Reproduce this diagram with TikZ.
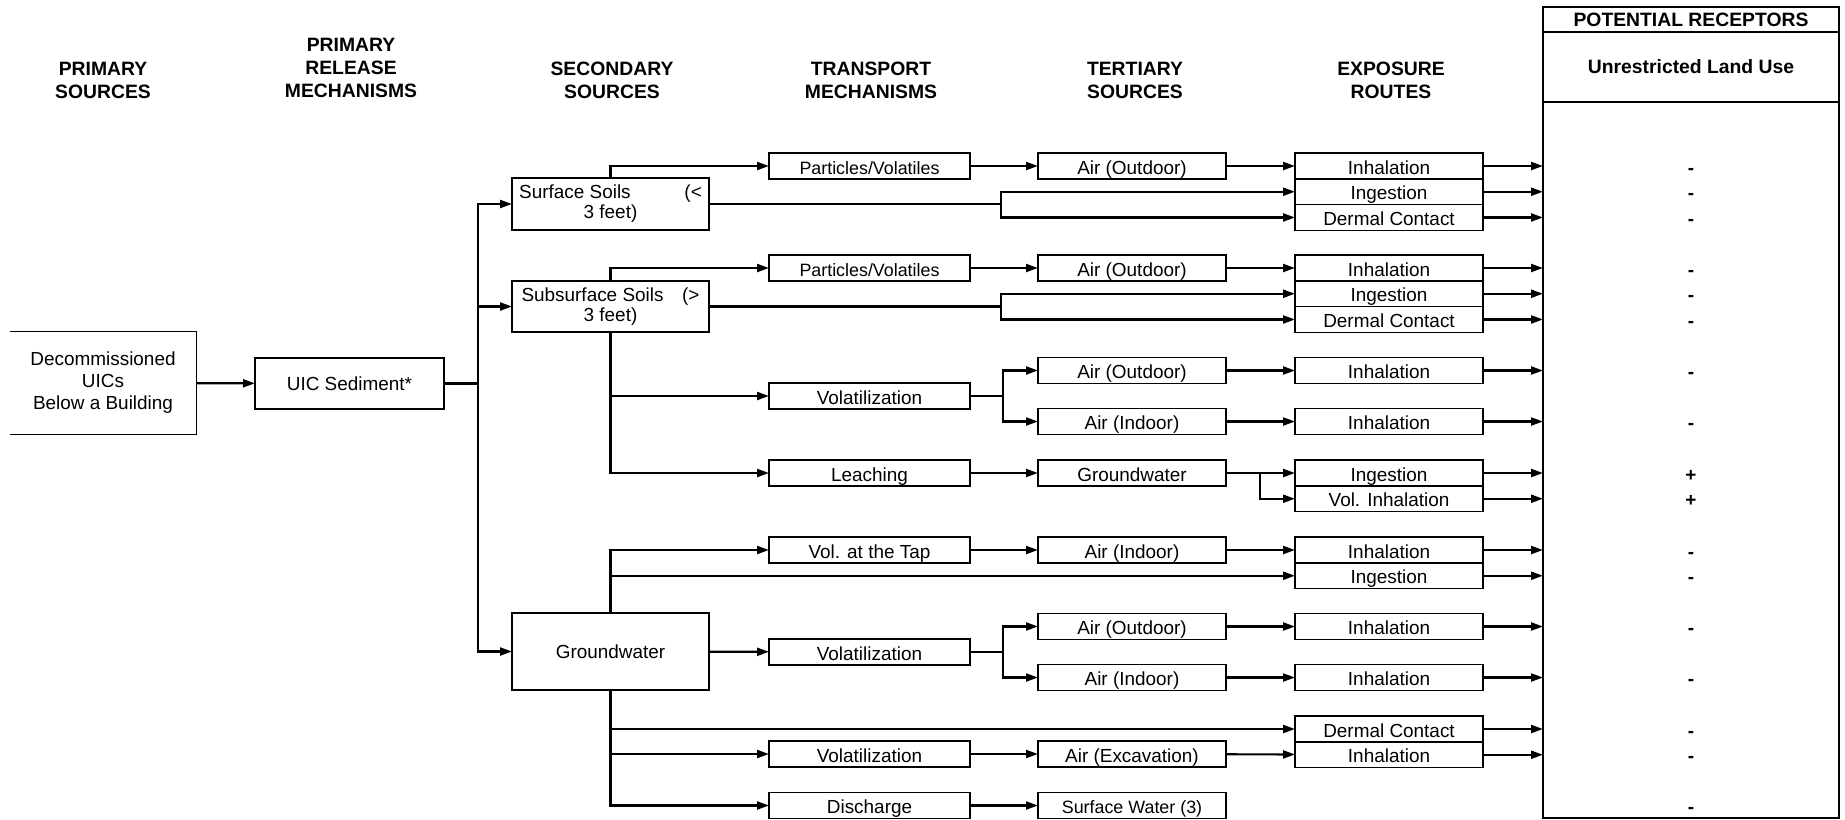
\documentclass[tikz,border=0pt]{standalone}
\usepackage{fontspec}
\setmainfont{Liberation Sans}
\usetikzlibrary{positioning,arrows.meta}

\begin{document}
\begin{tikzpicture}[x=0.75pt,y=0.75pt,yscale=-1,xscale=1,
  every node/.style={font=\fontsize{14.2}{16.5}\selectfont},
  hdr/.style={font=\bfseries\fontsize{14.5}{17.25}\selectfont,align=center},
  box/.style={draw,line width=1.1pt,inner sep=2pt,outer sep=0pt},
  tbox/.style={box,minimum width=150.75pt,minimum height=19.5pt,text height=12pt,text depth=0pt},
  sbox/.style={box,minimum width=141pt,minimum height=19.3pt,text height=12pt,text depth=0pt},
  recbox/.style={draw,line width=1.4pt,minimum width=222pt,inner sep=2pt,outer sep=0pt,font=\bfseries\fontsize{14.5}{17}\selectfont},
  con/.style={line width=1.6pt},
  arr/.style={con,-{Triangle[length=9pt,width=6pt]}},
  sign/.style={font=\bfseries\fontsize{14.2}{16}\selectfont,text height=12pt,text depth=0pt}]
\useasboundingbox (0,0) rectangle (1845,819) ;

\node[hdr] (hps) at (103,80) {PRIMARY\\SOURCES};
\node[hdr] (hprm) at (351,68) {PRIMARY\\RELEASE\\MECHANISMS};
\node[hdr] (hss) at (612,80) {SECONDARY\\SOURCES};
\node[hdr] (htm) at (871,80) {TRANSPORT\\MECHANISMS};
\node[hdr] (hts) at (1135,80) {TERTIARY\\SOURCES};
\node[hdr] (her) at (1391,80) {EXPOSURE\\ROUTES};

\node[recbox,minimum height=18.75pt] (rech) at (1691,19.5) {POTENTIAL RECEPTORS};
\node[recbox,minimum height=52.5pt,below=0pt of rech] (recl) {Unrestricted Land Use};
\node[recbox,minimum height=537pt,below=0pt of recl] (recb) {};

\node[align=center,minimum width=139.5pt,minimum height=76.5pt] (prim) at (103,383) {Decommissioned\\UICs\\Below a Building};
\draw[line width=1.1pt] (prim.north west) -- (prim.north east) -- (prim.south east) -- (prim.south west) ;
\node[box,minimum width=141.75pt,minimum height=38.25pt] (uic) at (349.5,383.5) {UIC Sediment*};

\node[box,minimum width=147.75pt,minimum height=39pt,align=center,font=\fontsize{14.2}{15}\selectfont] (ss) at (610.5,204) {\makebox[137pt]{Surface Soils\hfill(<}\\3 feet)};
\node[box,minimum width=147.75pt,minimum height=38.25pt,align=center,font=\fontsize{14.2}{15}\selectfont] (sub) at (610.5,306.5) {\makebox[133.5pt]{Subsurface Soils\hfill(>}\\3 feet)};
\node[box,minimum width=147.75pt,minimum height=57.75pt] (gw) at (610.5,651.5) {Groundwater};

\node[tbox,font=\fontsize{13.4}{15}\selectfont] (pv1) at (869.5,166) {Particles/Volatiles};
\node[tbox,font=\fontsize{13.4}{15}\selectfont] (pv2) at (869.5,268) {Particles/Volatiles};
\node[tbox] (vol1) at (869.5,396) {Volatilization};
\node[tbox] (leach) at (869.5,473) {Leaching};
\node[tbox] (tap) at (869.5,550) {Vol. at the Tap};
\node[tbox] (vol2) at (869.5,652) {Volatilization};
\node[tbox] (vol3) at (869.5,754) {Volatilization};
\node[tbox] (disch) at (869.5,805.5) {Discharge};

\node[sbox] (ao1) at (1132,166) {Air (Outdoor)};
\node[sbox] (ao2) at (1132,268) {Air (Outdoor)};
\node[sbox] (ao3) at (1132,370.5) {Air (Outdoor)};
\node[sbox] (ai1) at (1132,421.5) {Air (Indoor)};
\node[sbox] (gw2) at (1132,473) {Groundwater};
\node[sbox] (ai2) at (1132,550) {Air (Indoor)};
\node[sbox] (ao4) at (1132,626.5) {Air (Outdoor)};
\node[sbox] (ai3) at (1132,677.5) {Air (Indoor)};
\node[sbox] (aex) at (1132,754) {Air (Excavation)};
\node[sbox,font=\fontsize{13.4}{15}\selectfont] (sw) at (1132,805.5) {Surface Water (3)};

\node[sbox] (inh1) at (1389,166) {Inhalation};
\node[sbox,below=0pt of inh1] (ing1) {Ingestion};
\node[sbox,below=0pt of ing1] (der1) {Dermal Contact};
\node[sbox] (inh2) at (1389,268) {Inhalation};
\node[sbox,below=0pt of inh2] (ing2) {Ingestion};
\node[sbox,below=0pt of ing2] (der2) {Dermal Contact};
\node[sbox] (inh3) at (1389,370.5) {Inhalation};
\node[sbox] (inh4) at (1389,421.5) {Inhalation};
\node[sbox] (ing3) at (1389,473) {Ingestion};
\node[sbox,below=0pt of ing3] (vinh) {Vol. Inhalation};
\node[sbox] (inh5) at (1389,550) {Inhalation};
\node[sbox,below=0pt of inh5] (ing4) {Ingestion};
\node[sbox] (inh6) at (1389,626.5) {Inhalation};
\node[sbox] (inh7) at (1389,677.5) {Inhalation};
\node[sbox] (der3) at (1389,729) {Dermal Contact};
\node[sbox,below=0pt of der3] (inh8) {Inhalation};

\coordinate (tr) at (478,383.5);
\coordinate (j1) at (1001,204);
\coordinate (j2) at (1001,306.5);
\coordinate (j3) at (1003,396);
\coordinate (j4) at (1260,473);
\coordinate (j5) at (1003,652);

\draw[arr] (prim) -- (uic) ;
\draw[con] (uic) -- (tr) ;
\draw[arr] (tr) |- (ss) ;
\draw[arr] (tr) |- (sub) ;
\draw[arr] (tr) |- (gw) ;

\draw[arr] (ss.north) |- (pv1) ;
\draw[arr] (pv1) -- (ao1) ;
\draw[arr] (ao1) -- (inh1) ;
\draw[con] (ss) -- (j1) ;
\draw[arr] (j1) |- (ing1) ;
\draw[arr] (j1) |- (der1) ;

\draw[arr] (sub.north) |- (pv2) ;
\draw[arr] (pv2) -- (ao2) ;
\draw[arr] (ao2) -- (inh2) ;
\draw[con] (sub) -- (j2) ;
\draw[arr] (j2) |- (ing2) ;
\draw[arr] (j2) |- (der2) ;

\draw[arr] (sub.south) |- (vol1) ;
\draw[arr] (sub.south) |- (leach) ;
\draw[con] (vol1) -- (j3) ;
\draw[arr] (j3) |- (ao3) ;
\draw[arr] (j3) |- (ai1) ;
\draw[arr] (ao3) -- (inh3) ;
\draw[arr] (ai1) -- (inh4) ;
\draw[arr] (leach) -- (gw2) ;
\draw[con] (gw2) -- (j4) ;
\draw[arr] (j4) -- (ing3) ;
\draw[arr] (j4) |- (vinh) ;

\draw[arr] (gw.north) |- (tap) ;
\draw[arr] (gw.north) |- (ing4) ;
\draw[arr] (tap) -- (ai2) ;
\draw[arr] (ai2) -- (inh5) ;
\draw[arr] (gw) -- (vol2) ;
\draw[con] (vol2) -- (j5) ;
\draw[arr] (j5) |- (ao4) ;
\draw[arr] (j5) |- (ai3) ;
\draw[arr] (ao4) -- (inh6) ;
\draw[arr] (ai3) -- (inh7) ;
\draw[arr] (gw.south) |- (der3) ;
\draw[arr] (gw.south) |- (vol3) ;
\draw[arr] (gw.south) |- (disch) ;
\draw[arr] (vol3) -- (aex) ;
\draw[arr] (aex) -- (inh8) ;
\draw[arr] (disch) -- (sw) ;

\foreach \e/\s in {inh1/-,ing1/-,der1/-,inh2/-,ing2/-,der2/-,inh3/-,inh4/-,ing3/+,vinh/+,inh5/-,ing4/-,inh6/-,inh7/-,der3/-,inh8/-}{
  \draw[arr] (\e.east) -- (\e.east -| recb.west) ;
  \node[sign] (sg\e) at (\e -| recb) {\s};
}
\node[sign] (sgsw) at (sw -| recb) {-};
\end{tikzpicture}
\end{document}
